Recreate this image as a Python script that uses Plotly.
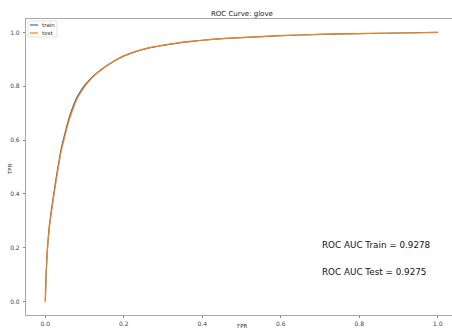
import plotly.graph_objects as go

# ---- data ----
train_fpr = [0.0, 0.002, 0.005, 0.01, 0.015, 0.02, 0.025, 0.03, 0.04, 0.05, 0.06, 0.07, 0.08, 0.09, 0.1, 0.11, 0.12, 0.13, 0.14, 0.16, 0.18, 0.2, 0.23, 0.26, 0.3, 0.35, 0.4, 0.45, 0.5, 0.6, 0.7, 0.8, 0.9, 1.0]
train_tpr = [0.0, 0.1, 0.19, 0.28, 0.335, 0.385, 0.435, 0.48, 0.565, 0.625, 0.68, 0.722, 0.757, 0.782, 0.803, 0.82, 0.835, 0.848, 0.86, 0.88, 0.898, 0.913, 0.929, 0.941, 0.952, 0.963, 0.971, 0.977, 0.981, 0.988, 0.993, 0.996, 0.998, 1.0]
test_fpr = [0.0, 0.002, 0.005, 0.01, 0.015, 0.02, 0.025, 0.03, 0.04, 0.05, 0.06, 0.07, 0.08, 0.09, 0.1, 0.11, 0.12, 0.13, 0.14, 0.16, 0.18, 0.2, 0.23, 0.26, 0.3, 0.35, 0.4, 0.45, 0.5, 0.6, 0.7, 0.8, 0.9, 1.0]
test_tpr = [0.0, 0.095, 0.182, 0.27, 0.325, 0.375, 0.425, 0.47, 0.555, 0.615, 0.67, 0.713, 0.75, 0.776, 0.798, 0.816, 0.832, 0.846, 0.858, 0.879, 0.897, 0.912, 0.929, 0.942, 0.953, 0.964, 0.971, 0.977, 0.981, 0.988, 0.993, 0.996, 0.998, 1.0]
series_names = ["train", "test"]
series_colors = ["#1f77b4", "#ff7f0e"]
auc_labels = ["ROC AUC Train = 0.9278", "ROC AUC Test = 0.9275"]
auc_pos = [(0.7, 0.212), (0.7, 0.108)]
tick_vals = [0.0, 0.2, 0.4, 0.6, 0.8, 1.0]
tick_text = ["0.0", "0.2", "0.4", "0.6", "0.8", "1.0"]
title_text = "ROC Curve: glove"

FONT = "DejaVu Sans"
W, H = 452, 329
L, T, R, B = 26, 19, 0, 14
PW, PH = W - L - R, H - T - B


def fx(px):
    return (px - L) / PW


def fy(py):
    return (H - B - py) / PH


fig = go.Figure()
for xs, ys, name, col in [(train_fpr, train_tpr, series_names[0], series_colors[0]),
                          (test_fpr, test_tpr, series_names[1], series_colors[1])]:
    fig.add_trace(go.Scatter(x=xs, y=ys, mode="lines", name=name,
                             line=dict(color=col, width=1.2, shape="spline", smoothing=0.3),
                             showlegend=False))

axis_common = dict(showgrid=False, zeroline=False, showline=True, linecolor="#a8a8a8",
                   linewidth=1.2, ticks="outside", ticklen=2, tickcolor="#888",
                   tickvals=tick_vals, ticktext=tick_text, automargin=False,
                   tickfont=dict(family=FONT, size=6, color="#444"))

fig.update_layout(
    width=W, height=H,
    margin=dict(l=L, r=R, t=T, b=B, pad=0),
    paper_bgcolor="white", plot_bgcolor="white",
    xaxis=dict(range=[-0.0492, 1.0362], mirror=True, ticklabelstandoff=1, **axis_common),
    yaxis=dict(range=[-0.05, 1.05], ticklabelstandoff=2, **axis_common),
    showlegend=False,
)

annotations = [
    dict(text=title_text, xref="paper", yref="paper", x=fx(241.5), y=fy(14), showarrow=False,
         xanchor="center", yanchor="middle", font=dict(family=FONT, size=7, color="#222")),
    dict(text="FPR", xref="paper", yref="paper", x=fx(242), y=fy(326), showarrow=False,
         xanchor="center", yanchor="middle", font=dict(family=FONT, size=5.5, color="#333")),
    dict(text="TPR", xref="paper", yref="paper", x=fx(10), y=fy(169), showarrow=False,
         textangle=-90, xanchor="center", yanchor="middle", font=dict(family=FONT, size=5.5, color="#333")),
]
for txt, (ax, ay) in zip(auc_labels, auc_pos):
    annotations.append(dict(text=txt, x=ax, y=ay, xref="x", yref="y", showarrow=False,
                            xanchor="left", yanchor="middle",
                            font=dict(family=FONT, size=8.8, color="#111")))

# manual legend
annotations.append(dict(text=series_names[0], xref="paper", yref="paper", x=fx(40), y=fy(25),
                        showarrow=False, xanchor="left", yanchor="middle",
                        font=dict(family=FONT, size=5.5, color="#333")))
annotations.append(dict(text=series_names[1], xref="paper", yref="paper", x=fx(40), y=fy(33),
                        showarrow=False, xanchor="left", yanchor="middle",
                        font=dict(family=FONT, size=5.5, color="#333")))
fig.update_layout(annotations=annotations)

shapes = [
    dict(type="rect", xref="paper", yref="paper", x0=fx(28), x1=fx(57), y0=fy(37), y1=fy(21),
         line=dict(color="#dddddd", width=0.8), fillcolor="rgba(255,255,255,0.8)"),
    dict(type="line", xref="paper", yref="paper", x0=fx(30), x1=fx(38), y0=fy(25), y1=fy(25),
         line=dict(color=series_colors[0], width=1.2)),
    dict(type="line", xref="paper", yref="paper", x0=fx(30), x1=fx(38), y0=fy(33), y1=fy(33),
         line=dict(color=series_colors[1], width=1.2)),
]
fig.update_layout(shapes=shapes)

fig.write_html("out.html", config={"displayModeBar": False},
               post_script="document.body.style.margin='0';document.body.style.padding='0';document.body.style.overflow='hidden';")
